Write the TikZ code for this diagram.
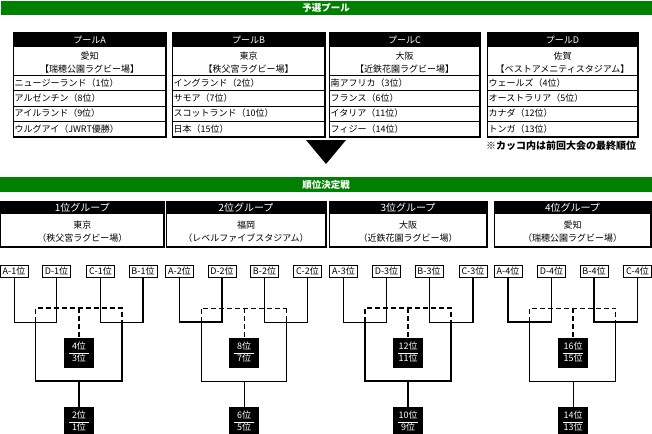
\documentclass[tikz,border=0pt]{standalone}
\usepackage{fontspec}
\setmainfont{Noto Sans CJK JP}
\usetikzlibrary{calc}
\definecolor{grn}{HTML}{008000}
\setlength{\arrayrulewidth}{1pt}
\newcommand\rb[2]{\begin{tabular}{@{}c@{}}\makebox[20pt]{#1}\\\hline\makebox[20pt]{#2}\end{tabular}}
\newcommand\pooltab[9]{%
  \fill (#2,33) rectangle (#3,47);
  \node[phdr] (p#1h) at ({(#2+#3)/2},40) {プール#1};
  \draw[tbl] (#2,33) rectangle (#3,137);
  \draw[shd] (#3,33) -- (#3,137) -- (#2,137);
  \foreach \yy in {76,91,106,121} {\draw[tbl] (#2,\yy) -- (#3,\yy);}
  \node[pven] (p#1v) at ({(#2+#3)/2},62.5) {#4\\#5};
  \node[prow] (p#1a) at (#2,83.5) {#6};
  \node[prow] (p#1b) at (#2,98.5) {#7};
  \node[prow] (p#1c) at (#2,113.5) {#8};
  \node[prow] (p#1d) at (#2,129) {#9};
}
\newcommand\grp[5]{%
  \fill (#2,201) rectangle (#3,214);
  \node[ghdr] (g#1h) at ({(#2+#3)/2},207.5) {#1位グループ};
  \draw[tbl] (#2,201) rectangle (#3,247);
  \draw[shd] (#3,201) -- (#3,247) -- (#2,247);
  \node[gven] (g#1v) at ({(#2+#3)/2},231.5) {#4\\（#5）};
}
\begin{document}
\begin{tikzpicture}[x=1pt,y=-1pt,
  font=\fontsize{9}{13}\selectfont,
  tbl/.style={line width=1pt},
  shd/.style={line width=2pt},
  tn/.style={line width=1pt, line cap=rect},
  th/.style={line width=1.9pt, line cap=rect},
  dsh/.style={dash pattern=on 5pt off 3pt, line cap=butt},
  phdr/.style={text=white, inner sep=0pt},
  pven/.style={align=center, inner sep=0pt},
  prow/.style={anchor=west, inner sep=1.5pt},
  ghdr/.style={text=white, inner sep=0pt, font=\fontsize{10}{13}\selectfont},
  gven/.style={align=center, inner sep=0pt},
  bar/.style={text=white, inner sep=0pt, font=\fontsize{9.5}{12}\selectfont\bfseries},
  seed/.style={draw, line width=1pt, fill=white, minimum width=28pt, minimum height=12pt, inner sep=0pt, font=\fontsize{9}{10}\selectfont},
  rbox/.style={fill=black, text=white, minimum width=30pt, minimum height=30pt, inner sep=0pt, font=\fontsize{9}{10}\selectfont}
]
\useasboundingbox (0,0) rectangle (652,433);
\clip (0,0) rectangle (652,433);

% green bars
\fill[grn] (1,1) rectangle (652,15);
\node[bar] (t1) at (326,8) {予選プール};
\fill[grn] (0,177) rectangle (652,192);
\node[bar] (t2) at (326,184.5) {順位決定戦};

% pool tables
\pooltab{A}{13}{166}{愛知}{【瑞穂公園ラグビー場】}{ニュージーランド（1位）}{アルゼンチン（8位）}{アイルランド（9位）}{ウルグアイ（JWRT優勝）}
\pooltab{B}{172}{325}{東京}{【秩父宮ラグビー場】}{イングランド（2位）}{サモア（7位）}{スコットランド（10位）}{日本（15位）}
\pooltab{C}{329}{480}{大阪}{【近鉄花園ラグビー場】}{南アフリカ（3位）}{フランス（6位）}{イタリア（11位）}{フィジー（14位）}
\pooltab{D}{487}{638}{佐賀}{【ベストアメニティスタジアム】}{ウェールズ（4位）}{オーストラリア（5位）}{カナダ（12位）}{トンガ（13位）}

\node[font=\fontsize{10}{12}\selectfont\bfseries, inner sep=0pt] (note) at (561,146) {※カッコ内は前回大会の最終順位};

% arrow triangle
\fill (306,140) -- (346,140) -- (326,164) -- cycle;

% group boxes
\grp{1}{0.5}{164}{東京}{秩父宮ラグビー場}
\grp{2}{166}{326}{福岡}{レベルファイブスタジアム}
\grp{3}{329}{487}{大阪}{近鉄花園ラグビー場}
\grp{4}{494}{651}{愛知}{瑞穂公園ラグビー場}

% seeds
\node[seed] (s1a) at (14,271.5) {A-1位};
\node[seed] (s1b) at (56.5,271.5) {D-1位};
\node[seed] (s1c) at (100.5,271.5) {C-1位};
\node[seed] (s1d) at (143,271.5) {B-1位};
\node[seed] (s2a) at (179.5,271.5) {A-2位};
\node[seed] (s2b) at (222,271.5) {D-2位};
\node[seed] (s2c) at (264.5,271.5) {B-2位};
\node[seed] (s2d) at (307.5,271.5) {C-2位};
\node[seed] (s3a) at (343.5,271.5) {A-3位};
\node[seed] (s3b) at (386.5,271.5) {D-3位};
\node[seed] (s3c) at (429,271.5) {B-3位};
\node[seed] (s3d) at (473,271.5) {C-3位};
\node[seed] (s4a) at (508,271.5) {A-4位};
\node[seed] (s4b) at (551.5,271.5) {D-4位};
\node[seed] (s4c) at (594,271.5) {B-4位};
\node[seed] (s4d) at (637.5,271.5) {C-4位};

% result boxes
\node[rbox] (r1a) at (79,353) {\rb{4位}{3位}};
\node[rbox] (r1b) at (79,422) {\rb{2位}{1位}};
\node[rbox] (r2a) at (244,353) {\rb{8位}{7位}};
\node[rbox] (r2b) at (244,422) {\rb{6位}{5位}};
\node[rbox] (r3a) at (408,353) {\rb{12位}{11位}};
\node[rbox] (r3b) at (408,422) {\rb{10位}{9位}};
\node[rbox] (r4a) at (573,353) {\rb{16位}{15位}};
\node[rbox] (r4b) at (573,422) {\rb{14位}{13位}};

% junction coordinates
\foreach \g/\p/\q in {1/35.5/122, 2/201/286.5, 3/365/451, 4/529.5/615.5}{
  \coordinate (g\g p) at (\p,322);
  \coordinate (g\g q) at (\q,322);
  \coordinate (g\g pu) at (\p,308);
  \coordinate (g\g qu) at (\q,308);
  \coordinate (g\g pd) at (\p,381);
  \coordinate (g\g qd) at (\q,381);
}

% group 1 bracket
\draw[tn] (s1a.south) -- (s1a.south |- g1p);
\draw[th] (s1b.south) -- (s1b.south |- g1p);
\draw[tn] (s1a.south |- g1p) -- (s1b.south |- g1p);
\draw[th] (s1c.south) -- (s1c.south |- g1q);
\draw[th] (s1d.south) -- (s1d.south |- g1q);
\draw[tn] (s1c.south |- g1q) -- (s1d.south |- g1q);
\draw[th,dsh] (g1p) -- (g1pu) -- (g1qu) -- (g1q);
\draw[th,dsh] (r1a.north |- g1pu) -- (r1a.north);
\draw[th] (g1p) -- (g1pd) -- (g1qd) -- (g1q);
\draw[th] (r1b.north |- g1pd) -- (r1b.north);

% group 2 bracket
\draw[th] (s2a.south) -- (s2a.south |- g2p);
\draw[th] (s2b.south) -- (s2b.south |- g2p);
\draw[th] (s2a.south |- g2p) -- (s2b.south |- g2p);
\draw[th] (s2c.south) -- (s2c.south |- g2q);
\draw[tn] (s2d.south) -- (s2d.south |- g2q);
\draw[tn] (s2c.south |- g2q) -- (s2d.south |- g2q);
\draw[tn,dsh] (g2p) -- (g2pu) -- (g2qu);
\draw[th,dsh] (g2qu) -- (g2q);
\draw[tn,dsh] (r2a.north |- g2pu) -- (r2a.north);
\draw[tn] (g2p) -- (g2pd) -- (g2qd);
\draw[th] (g2qd) -- (g2q);
\draw[tn] (r2b.north |- g2pd) -- (r2b.north);

% group 3 bracket
\draw[tn] (s3a.south) -- (s3a.south |- g3p);
\draw[tn] (s3b.south) -- (s3b.south |- g3p);
\draw[tn] (s3a.south |- g3p) -- (s3b.south |- g3p);
\draw[tn] (s3c.south) -- (s3c.south |- g3q);
\draw[th] (s3d.south) -- (s3d.south |- g3q);
\draw[tn] (s3c.south |- g3q) -- (s3d.south |- g3q);
\draw[th,dsh] (g3p) -- (g3pu) -- (g3qu) -- (g3q);
\draw[th,dsh] (r3a.north |- g3pu) -- (r3a.north);
\draw[th] (g3p) -- (g3pd) -- (g3qd) -- (g3q);
\draw[th] (r3b.north |- g3pd) -- (r3b.north);

% group 4 bracket
\draw[th] (s4a.south) -- (s4a.south |- g4p);
\draw[th] (s4b.south) -- (s4b.south |- g4p);
\draw[th] (s4a.south |- g4p) -- (s4b.south |- g4p);
\draw[th] (s4c.south) -- (s4c.south |- g4q);
\draw[th] (s4d.south) -- (s4d.south |- g4q);
\draw[th] (s4c.south |- g4q) -- (s4d.south |- g4q);
\draw[tn,dsh] (g4p) -- (g4pu) -- (g4qu) -- (g4q);
\draw[th,dsh] (r4a.north |- g4pu) -- (r4a.north);
\draw[tn] (g4p) -- (g4pd) -- (g4qd) -- (g4q);
\draw[tn] (r4b.north |- g4pd) -- (r4b.north);
\end{tikzpicture}
\end{document}
